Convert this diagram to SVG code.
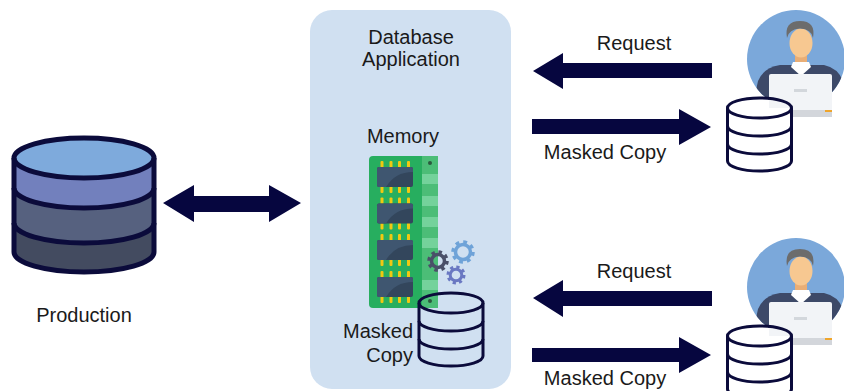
<svg xmlns="http://www.w3.org/2000/svg" xmlns:xlink="http://www.w3.org/1999/xlink" width="844" height="391" viewBox="0 0 844 391">
  <style>
    .lbl { font-family: "Liberation Sans", Arial, sans-serif; font-size: 20px; fill: #1a1a1a; }
    .arrow { fill: #06063f; }
    .db-line { fill: none; stroke: #0b0b3b; stroke-width: 3; stroke-linejoin: round; }
    .pin { fill: #f2c811; }
    .chip { fill: #33465c; }
    .chip-hl { fill: #3f5670; }
  </style>
  <defs>
    <!-- outlined database cylinder, top ellipse centred on the origin -->
    <g id="dbOutline">
      <path d="M-32,0 L-32,53 A32,10 0 0 0 32,53 L32,0 Z" stroke="none"/>
      <ellipse cx="0" cy="0" rx="32" ry="10" class="db-line"/>
      <path class="db-line" d="M-32,0 L-32,53 A32,10 0 0 0 32,53 L32,0"/>
      <path class="db-line" d="M-32,18 A32,10 0 0 0 32,18"/>
      <path class="db-line" d="M-32,36 A32,10 0 0 0 32,36"/>
    </g>
    <clipPath id="avatarClip">
      <circle cx="0" cy="0" r="49"/>
    </clipPath>
    <!-- user at a laptop, centred on the backdrop circle -->
    <g id="person">
      <circle cx="0" cy="0" r="49" fill="#7ba8da"/>
      <g clip-path="url(#avatarClip)">
        <path d="M-46,60 L-38,22 Q-33,9 -16,6 L28,6 Q42,9 47,22 L54,60 Z" fill="#3d4968"/>
      </g>
      <rect x="-1" y="-6" width="12" height="12" fill="#e9ae76"/>
      <polygon points="-3,3 13,3 15,8 5,17 -5,8" fill="#ffffff"/>
      <ellipse cx="5" cy="-16" rx="11.5" ry="14.5" fill="#f7c891"/>
      <path d="M-9,-21 Q-12,-38 4,-38 Q20,-38 17,-21 Q15.5,-30 4,-30.5 Q-7,-30 -9,-21 Z" fill="#6c6c6c"/>
      <rect x="-27" y="15" width="63" height="37" rx="2" fill="#f2f4f7"/>
      <rect x="-2" y="30" width="13" height="3" fill="#d3d7dc"/>
      <rect x="-27" y="51" width="63" height="7" fill="#d3d6db"/>
      <rect x="-27" y="51" width="7" height="2" fill="#efa52c"/>
      <rect x="29" y="51" width="7" height="2" fill="#efa52c"/>
    </g>
  </defs>

  <rect width="844" height="391" fill="#ffffff"/>

  <!-- production database -->
  <g id="production">
    <path d="M14,158 L14,252 A70,20 0 0 0 154,252 L154,158 Z" fill="#434b60"/>
    <path d="M14,158 L14,223 A70,20 0 0 0 154,223 L154,158 Z" fill="#56617f"/>
    <path d="M14,158 L14,188 A70,20 0 0 0 154,188 L154,158 Z" fill="#7280bd"/>
    <ellipse cx="84" cy="158" rx="70" ry="20" fill="#7eaadc"/>
    <g fill="none" stroke="#0b0b3b" stroke-width="5" stroke-linejoin="round">
      <path d="M14,158 L14,252 A70,20 0 0 0 154,252 L154,158"/>
      <ellipse cx="84" cy="158" rx="70" ry="20"/>
      <path d="M14,188 A70,20 0 0 0 154,188"/>
      <path d="M14,223 A70,20 0 0 0 154,223"/>
    </g>
    <text class="lbl" x="84" y="322" text-anchor="middle">Production</text>
  </g>

  <!-- database application panel -->
  <g id="app">
    <rect x="310" y="10" width="201" height="379" rx="22" fill="#d0e0f1"/>
    <text class="lbl" x="411" y="44" text-anchor="middle">Database</text>
    <text class="lbl" x="411" y="66" text-anchor="middle">Application</text>
    <text class="lbl" x="403" y="143" text-anchor="middle">Memory</text>
  </g>

  <!-- memory module -->
  <g id="memory">
    <rect x="369" y="156" width="69" height="152" rx="4" fill="#27ae5f"/>
    <rect x="422" y="156" width="16" height="152" fill="#4cbd77"/>
    <g fill="#74d29b">
      <rect x="422" y="174" width="16" height="10"/>
      <rect x="422" y="196" width="16" height="10"/>
      <rect x="422" y="217" width="16" height="10"/>
      <rect x="422" y="238" width="16" height="10"/>
      <rect x="422" y="280" width="16" height="10"/>
    </g>
    <circle cx="430" cy="163" r="2" fill="#2c5a3f"/>
    <circle cx="430" cy="301" r="2" fill="#2c5a3f"/>
    <g id="chips">
      <g>
        <rect class="pin" x="380.5" y="161" width="3" height="7" rx="1"/>
        <rect class="pin" x="389.5" y="161" width="3" height="7" rx="1"/>
        <rect class="pin" x="398" y="161" width="3" height="7" rx="1"/>
        <rect class="pin" x="407" y="161" width="3" height="7" rx="1"/>
        <rect class="pin" x="380.5" y="186" width="3" height="7" rx="1"/>
        <rect class="pin" x="389.5" y="186" width="3" height="7" rx="1"/>
        <rect class="pin" x="398" y="186" width="3" height="7" rx="1"/>
        <rect class="pin" x="407" y="186" width="3" height="7" rx="1"/>
        <rect class="chip" x="377" y="167" width="36" height="20" rx="2"/>
        <path class="chip-hl" d="M379,167 L411,167 Q413,167 413,169 L413,172 Q395,172 386,187 L379,187 Q377,187 377,185 L377,169 Q377,167 379,167 Z"/>
      </g>
    </g>
    <use href="#chips" xlink:href="#chips" y="36.5"/>
    <use href="#chips" xlink:href="#chips" y="73"/>
    <use href="#chips" xlink:href="#chips" y="110"/>
  </g>

  <!-- gears -->
  <g id="gears" fill="none">
    <circle cx="438" cy="261" r="8.5" stroke="#4a5069" stroke-width="4.5" stroke-dasharray="3.3 3.4"/>
    <circle cx="438" cy="261" r="6.5" stroke="#4a5069" stroke-width="3.5"/>
    <circle cx="463" cy="252" r="9.5" stroke="#6fa3d8" stroke-width="4.5" stroke-dasharray="3.6 3.85"/>
    <circle cx="463" cy="252" r="7.5" stroke="#6fa3d8" stroke-width="3.5"/>
    <circle cx="456" cy="275" r="7.5" stroke="#6a78c2" stroke-width="4" stroke-dasharray="3 2.9"/>
    <circle cx="456" cy="275" r="5.8" stroke="#6a78c2" stroke-width="3"/>
  </g>

  <!-- masked copy inside the application -->
  <g id="masked-copy">
    <use href="#dbOutline" xlink:href="#dbOutline" x="451" y="303" fill="none"/>
    <text class="lbl" x="413" y="338" text-anchor="end">Masked</text>
    <text class="lbl" x="413" y="362" text-anchor="end">Copy</text>
  </g>

  <!-- users with their local copies -->
  <g id="user1">
    <use href="#person" xlink:href="#person" x="796" y="59"/>
    <use href="#dbOutline" xlink:href="#dbOutline" x="759.5" y="108" fill="#ffffff"/>
  </g>
  <g id="user2">
    <use href="#person" xlink:href="#person" x="796" y="287"/>
    <use href="#dbOutline" xlink:href="#dbOutline" x="759.5" y="336" fill="#ffffff"/>
  </g>

  <!-- connectors -->
  <g id="connectors" class="arrow">
    <polygon points="163,203 194,185 194,196 269,196 269,185 301,203 269,222 269,212 194,212 194,222"/>
    <polygon points="533,71 563,53 563,63 712,63 712,78 563,78 563,89"/>
    <polygon points="532,119 679,119 679,109 711,127 679,145 679,134 532,134"/>
    <polygon points="533,298 563,280 563,291 712,291 712,306 563,306 563,317"/>
    <polygon points="532,348 679,348 679,337 711,355 679,373 679,362 532,362"/>
  </g>

  <g id="connector-labels">
    <text class="lbl" x="634" y="50" text-anchor="middle">Request</text>
    <text class="lbl" x="605" y="159" text-anchor="middle">Masked Copy</text>
    <text class="lbl" x="634" y="278" text-anchor="middle">Request</text>
    <text class="lbl" x="605" y="385" text-anchor="middle">Masked Copy</text>
  </g>
</svg>
